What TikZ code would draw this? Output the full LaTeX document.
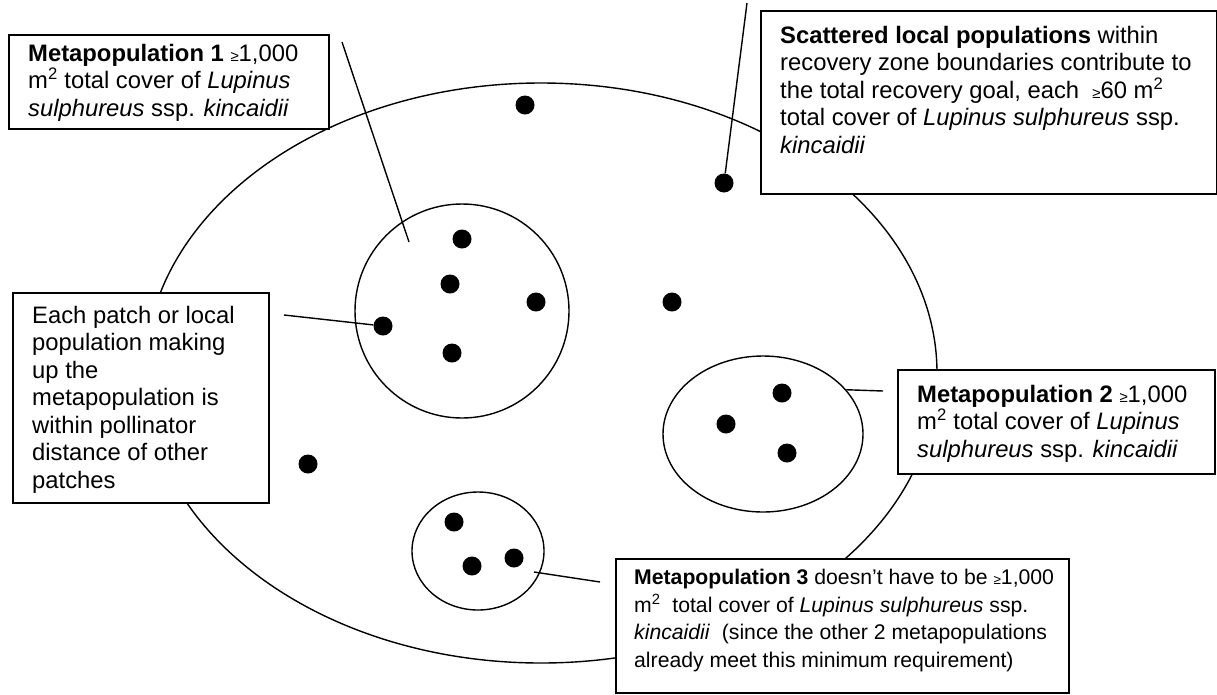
\documentclass[tikz,border=0pt]{standalone}
\usepackage{fontspec}
\setmainfont{Liberation Sans}
\usepackage{tikz}
\usetikzlibrary{shapes.geometric,positioning}

\newcommand{\smallgeq}{{\fontsize{15}{15}\selectfont ≥}}
\newcommand{\msq}{m\textsuperscript{2}}

\begin{document}
\begin{tikzpicture}[x=1pt,y=-1pt]
  \tikzstyle{zone}=[ellipse,draw=black,line width=1.4pt,inner sep=0pt]
  \tikzstyle{patch}=[circle,fill=black,minimum size=19pt,inner sep=0pt]
  \tikzstyle{note}=[rectangle,draw=black,line width=1.8pt,fill=white,anchor=north west,inner sep=0pt]
  \tikzstyle{txt}=[align=left,inner sep=0pt,font=\fontsize{23.8}{27.5}\selectfont]
  \tikzstyle{link}=[line width=1.4pt]

  \useasboundingbox (0,0) rectangle (1217,694);

  \begin{scope}
    % recovery zone and the three metapopulations
    \node [zone,minimum width=792pt,minimum height=580pt] (rz) at (541,373) {};
    \node [zone,minimum width=214pt,minimum height=214pt] (mp1) at (462,311) {};
    \node [zone,minimum width=200pt,minimum height=156pt] (mp2) at (763,434) {};
    \node [zone,minimum width=132pt,minimum height=118pt] (mp3) at (478,551) {};
  \end{scope}

  \begin{scope}
    % patches
    \node [patch] (a1) at (462,239) {};
    \node [patch] (a2) at (450,284) {};
    \node [patch] (a3) at (536,302) {};
    \node [patch] (a4) at (383,326) {};
    \node [patch] (a5) at (452,353) {};
    \node [patch] (b1) at (782,393) {};
    \node [patch] (b2) at (726,424) {};
    \node [patch] (b3) at (787,453) {};
    \node [patch] (c1) at (454,522) {};
    \node [patch] (c2) at (472,566) {};
    \node [patch] (c3) at (514,558) {};
    \node [patch] (s1) at (525,105) {};
    \node [patch] (s2) at (724,183) {};
    \node [patch] (s3) at (672,302) {};
    \node [patch] (s4) at (308,464) {};
  \end{scope}

  \coordinate (mp1top) at (342,42);
  \coordinate (mp1in) at (409,242);
  \coordinate (scattop) at (747,3);
  \coordinate (eachend) at (284,315);
  \coordinate (mp2end) at (883,391);
  \coordinate (mp3in) at (534,572);
  \coordinate (mp3end) at (600,582);

  \begin{scope}
    \path [link] (mp1top) edge (mp1in);
    \path [link] (scattop) edge (s2);
    \path [link] (eachend) edge (a4);
    \path [link] (mp2.28) edge (mp2end);
    \path [link] (mp3in) edge (mp3end);
  \end{scope}

  \begin{scope}
    % text boxes
    \node [note,minimum width=320pt,minimum height=94pt] (n1) at (8,34) {};
    \node [note,minimum width=456pt,minimum height=183pt] (n2) at (760,10) {};
    \node [note,minimum width=256pt,minimum height=210pt] (n3) at (12,292) {};
    \node [note,minimum width=317pt,minimum height=104pt] (n4) at (897,369) {};
    \node [note,minimum width=453pt,minimum height=134pt] (n5) at (615,558) {};

    \node [txt] (t1) [below right=10pt and 20pt of n1.north west]
      {\textbf{Metapopulation 1} \smallgeq1,000\\
       \msq{} total cover of \textit{Lupinus}\\
       \textit{sulphureus} ssp. \textit{kincaidii}};
    \node [txt] (t2) [below right=16pt and 20pt of n2.north west]
      {\textbf{Scattered local populations} within\\
       recovery zone boundaries contribute to\\
       the total recovery goal, each \ \smallgeq60 \msq\\
       total cover of \textit{Lupinus sulphureus} ssp.\\
       \textit{kincaidii}};
    \node [txt] (t3) [below right=14pt and 20pt of n3.north west]
      {Each patch or local\\
       population making\\
       up the\\
       metapopulation is\\
       within pollinator\\
       distance of other\\
       patches};
    \node [txt] (t4) [below right=16pt and 20pt of n4.north west]
      {\textbf{Metapopulation 2} \smallgeq1,000\\
       \msq{} total cover of \textit{Lupinus}\\
       \textit{sulphureus} ssp. \textit{kincaidii}};
    \node [txt,font=\fontsize{21.2}{27.5}\selectfont] (t5) [below right=11pt and 19pt of n5.north west]
      {\textbf{Metapopulation 3} doesn’t have to be {\fontsize{13.5}{13.5}\selectfont ≥}1,000\\
       \msq{} \ total cover of \textit{Lupinus sulphureus} ssp.\\
       \textit{kincaidii} \ (since the other 2 metapopulations\\
       already meet this minimum requirement)};
  \end{scope}
\end{tikzpicture}
\end{document}
